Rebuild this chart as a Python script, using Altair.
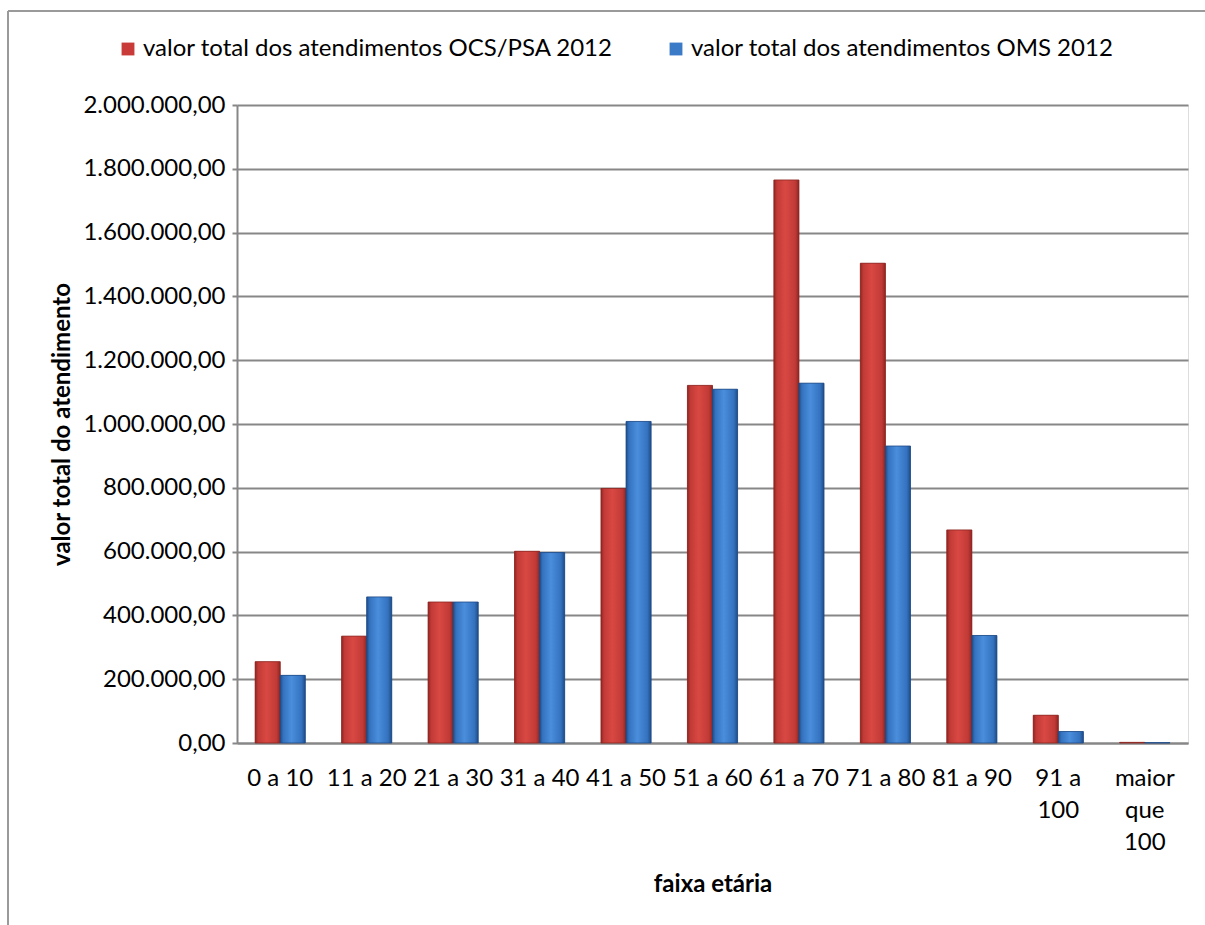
import altair as alt
import pandas as pd

categories = ["0 a 10", "11 a 20", "21 a 30", "31 a 40", "41 a 50", "51 a 60",
              "61 a 70", "71 a 80", "81 a 90", "91 a 100", "maior que 100"]
ocs_psa_2012 = [255000, 335000, 442000, 601000, 798000, 1121000,
                1765000, 1504000, 668000, 87000, 2000]
oms_2012 = [212000, 458000, 442000, 597000, 1008000, 1109000,
            1128000, 931000, 337000, 36000, 1000]
series_names = ["valor total dos atendimentos OCS/PSA 2012",
                "valor total dos atendimentos OMS 2012"]

rows = []
for c, a, b in zip(categories, ocs_psa_2012, oms_2012):
    rows.append({"faixa": c, "serie": series_names[0], "valor": a})
    rows.append({"faixa": c, "serie": series_names[1], "valor": b})
df = pd.DataFrame(rows)

FONT = "Lato"
FS = 24
GRAY = "#878787"

label_expr = ("datum.label == '91 a 100' ? ['91 a', '100'] : "
              "datum.label == 'maior que 100' ? ['maior', 'que', '100'] : datum.label")
y_label_expr = "join(split(format(datum.value, ',.0f'), ','), '.') + ',00'"

x_enc = alt.X("faixa:N", sort=categories,
              scale=alt.Scale(paddingInner=0.42, paddingOuter=0.21),
              axis=alt.Axis(title="faixa etária", labelAngle=0, labelExpr=label_expr,
                            labelFontSize=FS, labelLineHeight=32, labelPadding=23,
                            labelColor="#000000", ticks=False, domainColor=GRAY,
                            domainWidth=2, titleFontSize=FS, titleFontWeight="bold",
                            titlePadding=18, titleColor="#000000", labelFont=FONT,
                            titleFont=FONT, grid=False, labelLimit=0))
y_enc = alt.Y("valor:Q", scale=alt.Scale(domain=[0, 2000000]),
              axis=alt.Axis(title="valor total do atendimento", labelExpr=y_label_expr,
                            values=list(range(0, 2000001, 200000)), labelOverlap=False,
                            labelFontSize=FS, labelColor="#000000", labelPadding=7,
                            tickSize=5, tickColor=GRAY, tickWidth=2,
                            domainColor=GRAY, domainWidth=2, gridColor=GRAY,
                            gridWidth=2, titleFontSize=FS, titleFontWeight="bold",
                            titleColor="#000000", titleX=-175, titleY=319,
                            titleAngle=270, titleAlign="center", titleBaseline="middle",
                            labelFont=FONT, titleFont=FONT, labelLimit=0))
xoff = alt.XOffset("serie:N", sort=series_names)

base = alt.Chart(df).mark_bar().encode(
    x=x_enc, y=y_enc, xOffset=xoff,
    color=alt.Color("serie:N", sort=series_names,
                    scale=alt.Scale(domain=series_names, range=["#C93B38", "#3A7AC6"]),
                    legend=alt.Legend(title=None, orient="none", direction="horizontal",
                                      legendX=-121, legendY=-68, symbolType="square",
                                      symbolSize=165, labelFontSize=FS, labelFont=FONT,
                                      labelColor="#000000", columnPadding=50,
                                      symbolStrokeWidth=0, labelOffset=3, labelLimit=0)),
)

def grad(dark, mid, light):
    return alt.LinearGradient(gradient="linear", x1=0, x2=1, y1=0, y2=0, stops=[
        alt.GradientStop(offset=0, color=dark),
        alt.GradientStop(offset=0.12, color=mid),
        alt.GradientStop(offset=0.45, color=light),
        alt.GradientStop(offset=0.85, color=mid),
        alt.GradientStop(offset=1, color=dark),
    ])

red_layer = alt.Chart(df).transform_filter(
    alt.datum.serie == series_names[0]
).mark_bar(fill=grad("#8E2623", "#C13A36", "#D94843"), stroke="#8A2420", strokeWidth=0.8).encode(
    x=x_enc, y=y_enc, xOffset=xoff)
blue_layer = alt.Chart(df).transform_filter(
    alt.datum.serie == series_names[1]
).mark_bar(fill=grad("#1F4C86", "#3472BF", "#4A8EDC"), stroke="#1E4A85", strokeWidth=0.8).encode(
    x=x_enc, y=y_enc, xOffset=xoff)

frame_left = alt.Chart(df).mark_rule(color="#9A9A9A", strokeWidth=2).encode(
    x=alt.value(-229), y=alt.value(-94), y2=alt.value(820))
frame_top = alt.Chart(df).mark_rule(color="#9A9A9A", strokeWidth=2).encode(
    x=alt.value(-229), x2=alt.value(968), y=alt.value(-94))

chart = alt.layer(base, red_layer, blue_layer, frame_left, frame_top).properties(
    width=951, height=638,
    autosize=alt.AutoSizeParams(type="none"),
    padding={"left": 237, "top": 105, "right": 17, "bottom": 182},
).configure_view(stroke=None).configure(background="white")

chart.save("out.html", embed_options={"renderer": "svg", "actions": False})
